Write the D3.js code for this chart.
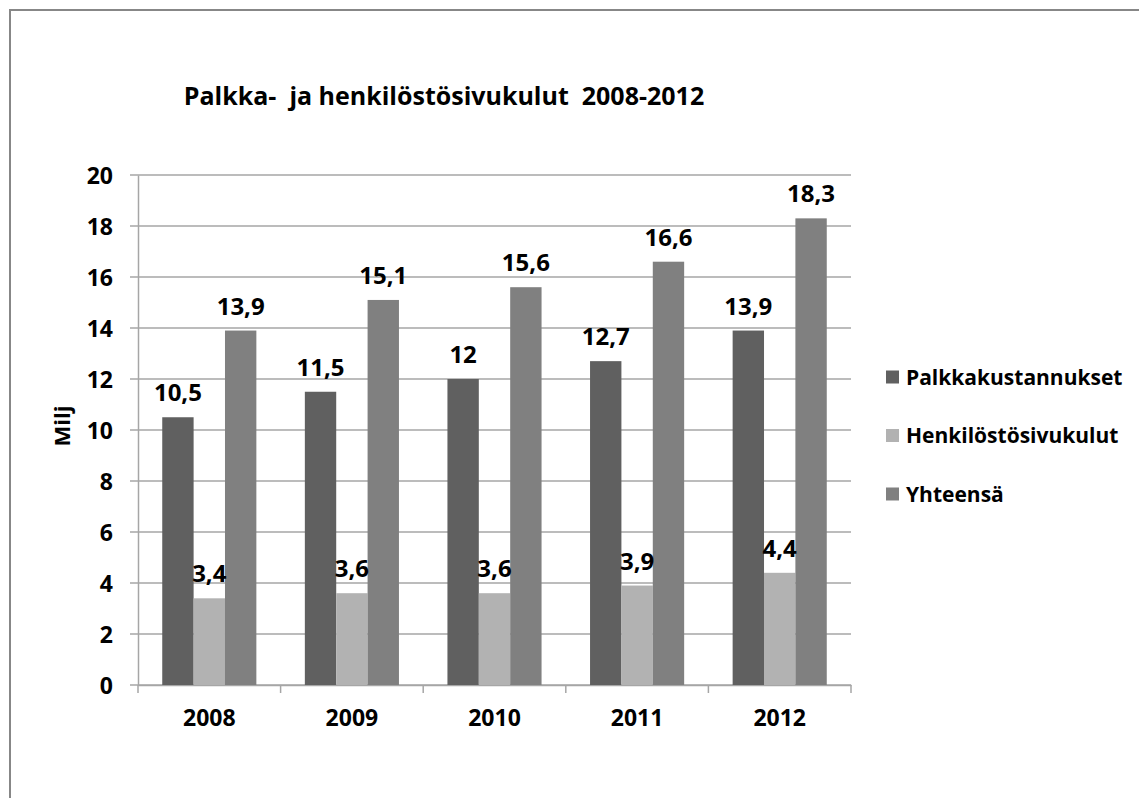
<!DOCTYPE html>
<html>
<head>
<meta charset="utf-8">
<script src="https://cdn.jsdelivr.net/npm/d3@7"></script>
<style>
	body { margin: 0; background: #fff; }
	svg text { font-family: 'Open Sans', 'Noto Sans', sans-serif; font-weight: bold; fill: #000; }
</style>
</head>
<body>
<svg id="chart" width="1139" height="798"></svg>
<script>
// Data
var years = ['2008', '2009', '2010', '2011', '2012'];
var series = ['Palkkakustannukset', 'Henkilöstösivukulut', 'Yhteensä'];
var palkka = [10.5, 11.5, 12, 12.7, 13.9];
var sivukulut = [3.4, 3.6, 3.6, 3.9, 4.4];
var yhteensa = [13.9, 15.1, 15.6, 16.6, 18.3];
var yTicks = [0, 2, 4, 6, 8, 10, 12, 14, 16, 18, 20];
var colors = ['#606060', '#b2b2b2', '#808080'];

var values = [palkka, sivukulut, yhteensa];

var svg = d3.select('svg#chart');

// outer frame (runs off the right and bottom edge)
svg.append('rect')
	.attr('x', 10)
	.attr('y', 10)
	.attr('width', 1200)
	.attr('height', 900)
	.style('fill', '#fff')
	.style('stroke', '#878787')
	.style('stroke-width', 2);

// plot area edges
var plotLeft = 138, plotRight = 851, plotTop = 175, plotBottom = 685;

var xScale = d3.scaleBand().domain(years).range([plotLeft, plotRight]);
var bw = xScale.bandwidth();
var xInner = d3.scaleBand().domain(d3.range(series.length))
	.range([bw * 0.17, bw * 0.83]);
var yScale = d3.scaleLinear().domain([0, 20]).range([plotBottom, plotTop]);

// gridlines
svg.append('g')
	.selectAll('line')
	.data(yTicks)
	.enter()
	.append('line')
	.attr('x1', plotLeft - 8)
	.attr('x2', plotRight)
	.attr('y1', function (d) { return yScale(d); })
	.attr('y2', function (d) { return yScale(d); })
	.style('stroke', '#a6a6a6')
	.style('stroke-width', 1.5);

// y axis
var yAxis = d3.axisLeft(yScale).tickValues(yTicks).tickSize(0).tickPadding(25);
var yg = svg.append('g')
	.attr('transform', 'translate(' + plotLeft + ',0)')
	.call(yAxis);
yg.select('.domain').style('stroke', '#a6a6a6').style('stroke-width', 1.5);
yg.selectAll('text').style('font-size', '23px').attr('dy', '0.35em');

// x axis
var xAxis = d3.axisBottom(xScale).tickSize(0).tickPadding(25);
var xg = svg.append('g')
	.attr('transform', 'translate(0,' + plotBottom + ')')
	.call(xAxis);
xg.select('.domain').style('stroke', '#a6a6a6').style('stroke-width', 1.5);
xg.selectAll('text').style('font-size', '23px');
svg.selectAll('.tick text').attr('font-family', null).attr('font-size', null);

// category separators below the axis
svg.append('g')
	.selectAll('line')
	.data(years.map(function (d) { return xScale(d); }).concat([plotRight]))
	.enter()
	.append('line')
	.attr('x1', function (d) { return d; })
	.attr('x2', function (d) { return d; })
	.attr('y1', plotBottom)
	.attr('y2', plotBottom + 8)
	.style('stroke', '#a6a6a6')
	.style('stroke-width', 1.5);

// bars
var groups = svg.selectAll('g.year')
	.data(years)
	.enter()
	.append('g')
	.attr('class', 'year')
	.attr('transform', function (d) { return 'translate(' + xScale(d) + ',0)'; });

groups.selectAll('rect')
	.data(function (d, i) {
		return values.map(function (v, s) { return { s: s, v: v[i] }; });
	})
	.enter()
	.append('rect')
	.attr('x', function (d) { return xInner(d.s); })
	.attr('width', xInner.bandwidth())
	.attr('y', function (d) { return yScale(d.v); })
	.attr('height', function (d) { return plotBottom - yScale(d.v); })
	.style('fill', function (d) { return colors[d.s]; });

// value labels
groups.selectAll('text.val')
	.data(function (d, i) {
		return values.map(function (v, s) { return { s: s, v: v[i] }; });
	})
	.enter()
	.append('text')
	.attr('class', 'val')
	.attr('x', function (d) { return xInner(d.s) + xInner.bandwidth() / 2; })
	.attr('y', function (d) { return yScale(d.v) - 16; })
	.style('text-anchor', 'middle')
	.style('font-size', '24px')
	.text(function (d) { return String(d.v).replace('.', ','); });

// title
svg.append('text')
	.attr('x', 444)
	.attr('y', 105)
	.style('text-anchor', 'middle')
	.style('font-size', '25px')
	.style('white-space', 'pre')
	.text('Palkka-  ja henkilöstösivukulut  2008-2012');

// y axis title
svg.append('text')
	.attr('transform', 'translate(70,426) rotate(-90)')
	.style('text-anchor', 'middle')
	.style('font-size', '22px')
	.text('Milj');

// legend
var legend = svg.selectAll('g.legend')
	.data(series)
	.enter()
	.append('g')
	.attr('class', 'legend')
	.attr('transform', function (d, i) { return 'translate(886,' + (377 + i * 58.5) + ')'; });

legend.append('rect')
	.attr('x', 0)
	.attr('y', -6.5)
	.attr('width', 13)
	.attr('height', 13)
	.style('fill', function (d, i) { return colors[i]; });

legend.append('text')
	.attr('x', 20)
	.attr('dy', '0.36em')
	.style('font-size', '21px')
	.text(function (d) { return d; });
</script>
</body>
</html>
